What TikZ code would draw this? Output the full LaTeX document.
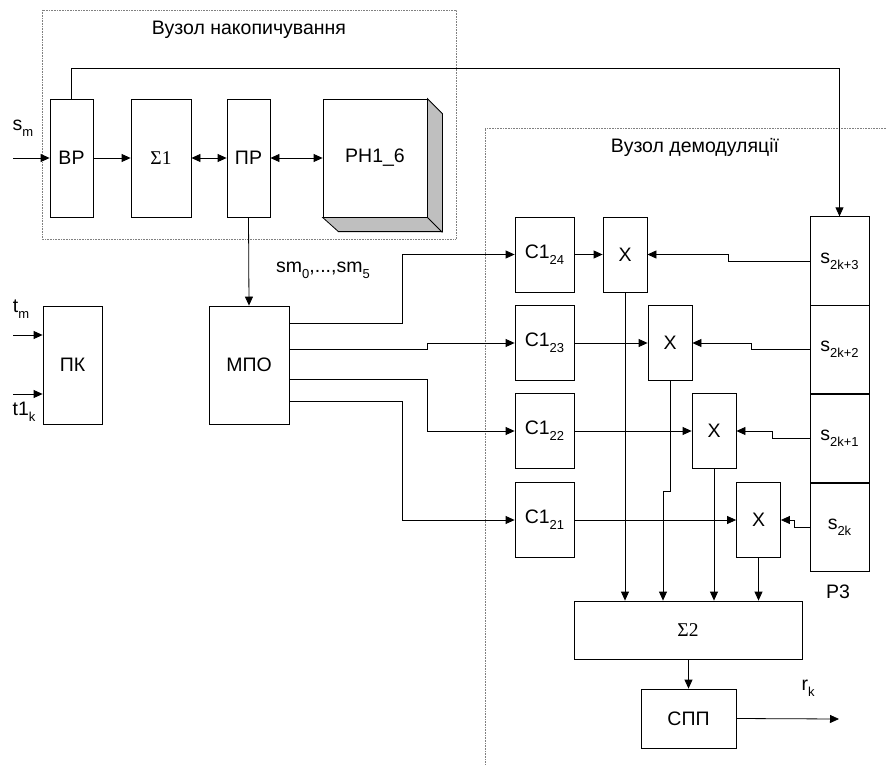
\documentclass[tikz,border=0pt]{standalone}
\usepackage{fontspec}
\setmainfont{Liberation Sans}
\newfontfamily\sigmashr{Liberation Serif}
\usetikzlibrary{arrows.meta, positioning}
\newcommand{\nyzh}[1]{\raisebox{-0.55ex}{\fontsize{13}{14}\selectfont #1}}
\tikzset{
  blok/.style={draw, line width=0.8pt, inner sep=0pt, font=\fontsize{19.5}{22}\selectfont},
  zvyazok/.style={line width=0.8pt, -{Triangle[length=9pt,width=8pt]}},
  dvobik/.style={line width=0.8pt, {Triangle[length=9pt,width=8pt]}-{Triangle[length=9pt,width=8pt]}},
  liniya/.style={line width=0.8pt},
  vuzol/.style={gray, line width=0.6pt, densely dotted},
  mitka/.style={font=\fontsize{19.5}{22}\selectfont, inner sep=1pt},
}
\begin{document}
\begin{tikzpicture}[x=1pt, y=-1pt]
    \useasboundingbox (0,0) rectangle (886,765);

    % Vuzly
    \draw[vuzol] (42,10) rectangle (456,239);
    \draw[vuzol] (886,128) -| (485,765);
    \node[mitka] (tnak) at (249,30) {Вузол накопичування};
    \node[mitka] (tdem) at (695,147) {Вузол демодуляції};

    % Vuzol nakopychuvannia
    \node[blok, minimum width=43pt, minimum height=118pt] (vr) at (71.5,158) {ВР};
    \node[blok, minimum width=60pt, minimum height=118pt] (s1) at (161,158) {\sigmashr Σ1};
    \node[blok, minimum width=43pt, minimum height=118pt] (pr) at (248.5,158) {ПР};
    \node[blok, minimum width=104pt, minimum height=118pt] (rh) at (375,158) {РН1\_6};
    \filldraw[liniya, fill=gray!50] (rh.north east) -- ++(15,15) -- ++(0,118) -- ++(-104,0)
      -- (rh.south west) -- (rh.south east) -- cycle;
    \draw[liniya] (rh.south east) -- ++(15,15);

    \coordinate (vhid) at (13,158);
    \node[mitka] (lsm) at (23,128) {s\nyzh{m}};
    \draw[zvyazok] (vhid) -- (vr.west);
    \draw[zvyazok] (vr) -- (s1);
    \draw[dvobik] (s1) -- (pr);
    \draw[dvobik] (pr) -- (rh.west);

    % PK i MPO
    \node[blok, minimum width=59pt, minimum height=118pt] (pk) at (72.5,365) {ПК};
    \node[blok, minimum width=80pt, minimum height=118pt] (mpo) at (249,365) {МПО};
    \coordinate (vtm) at (13,335);
    \coordinate (vtk) at (13,394);
    \draw[zvyazok] (vtm) -- (vtm -| pk.west);
    \draw[zvyazok] (vtk) -- (vtk -| pk.west);
    \node[mitka] (ltm) at (21,309) {t\nyzh{m}};
    \node[mitka] (ltk) at (24,412) {t1\nyzh{k}};
    \draw[zvyazok] (pr.south) -- (mpo.north);
    \node[mitka] (lsmn) at (323,270) {sm\nyzh{0},...,sm\nyzh{5}};

    % Vuzol demoduliatsii
    \foreach \i/\y in {24/254.5, 23/343, 22/431, 21/520}
      \node[blok, minimum width=59pt, minimum height=75pt] (c\i) at (544.5,\y) {С1\nyzh{\i}};
    \foreach \i/\x/\y in {1/625/254.5, 2/670/343, 3/714/431, 4/758.5/520}
      \node[blok, minimum width=44pt, minimum height=75pt] (x\i) at (\x,\y) {Х};
    \foreach \n/\y/\t in {a/261/2k+3, b/349.5/2k+2, c/438.5/2k+1, d/527.5/2k}
      \node[blok, minimum width=59pt, minimum height=88.5pt] (r3\n) at (839.5,\y) {s\nyzh{\t}};
    \node[mitka] (lr3) at (838,592) {Р3};
    \node[blok, minimum width=228pt, minimum height=58pt] (sum2) at (688,630) {\sigmashr Σ2};
    \node[blok, minimum width=95pt, minimum height=59pt] (spp) at (688.5,718.5) {СПП};

    % Zviazky
    \draw[zvyazok] (vr.north) -- ++(0,-30) -| (r3a.north);
    \draw[zvyazok] ([yshift=-18pt]mpo.north east) -- ++(113,0) |- (c24.west);
    \draw[zvyazok] ([yshift=-44pt]mpo.north east) -- ++(138,0) |- (c23.west);
    \draw[zvyazok] ([yshift=-74pt]mpo.north east) -- ++(138,0) |- (c22.west);
    \draw[zvyazok] ([yshift=-96pt]mpo.north east) -- ++(113,0) |- (c21.west);
    \draw[zvyazok] (c24) -- (x1);
    \draw[zvyazok] (c23) -- (x2);
    \draw[zvyazok] (c22) -- (x3);
    \draw[zvyazok] (c21) -- (x4);
    \draw[zvyazok] (r3a.west) -- ++(-81,0) |- (x1.east);
    \draw[zvyazok] (r3b.west) -- ++(-58,0) |- (x2.east);
    \draw[zvyazok] (r3c.west) -- ++(-37,0) |- (x3.east);
    \draw[zvyazok] (r3d.west) -- ++(-15,0) |- (x4.east);
    \draw[zvyazok] (x1.south) -- (x1.south |- sum2.north);
    \draw[zvyazok] (x2.south) -- ++(0,110) -| ([xshift=-25pt]sum2.north);
    \draw[zvyazok] (x3.south) -- (x3.south |- sum2.north);
    \draw[zvyazok] (x4.south) -- (x4.south |- sum2.north);
    \draw[zvyazok] (sum2.south -| spp.north) -- (spp.north);
    \coordinate (vyhid) at (839,719);
    \draw[zvyazok] (spp.east) -- (vyhid);
    \node[mitka] (lrk) at (808,688) {r\nyzh{k}};
\end{tikzpicture}
\end{document}
